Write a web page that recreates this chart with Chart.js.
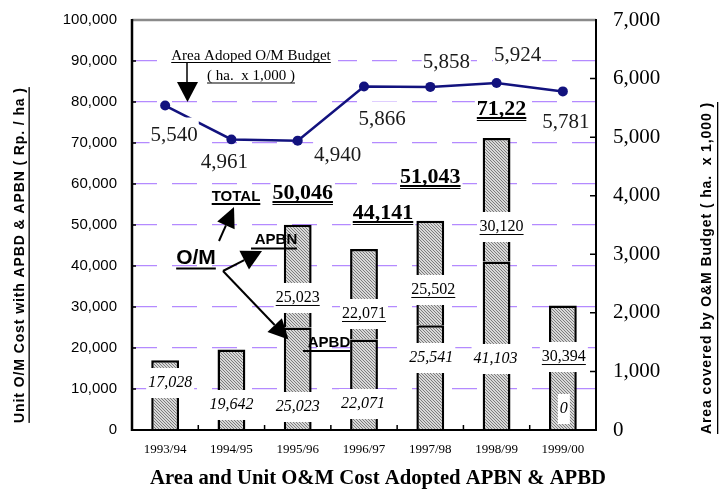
<!DOCTYPE html>
<html>
<head>
<meta charset="utf-8">
<script src="https://cdn.jsdelivr.net/npm/chart.js@4.4.1/dist/chart.umd.min.js"></script>
<style>
  html, body { margin: 0; padding: 0; background: #fff; }
  #wrap { width: 720px; height: 495px; }
</style>
</head>
<body>
<div id="wrap"><canvas id="c" width="720" height="495"></canvas></div>
<script>
// Fiscal years on the category axis
const years = ['1993/94', '1994/95', '1995/96', '1996/97', '1997/98', '1998/99', '1999/00'];

// Unit O&M cost (Rp./ha) split by funding source
const apbdCost = [17028, 19642, 25023, 22071, 25541, 41103, 0];
const apbnCost = [0, 0, 25023, 22071, 25502, 30120, 30394];

// Total cost captions printed above the stacks
const totalText = [null, null, '50,046', '44,141', '51,043', '71,22', null];

// Area covered by the O&M budget (ha x 1,000)
const areaCovered = [5540, 4961, 4940, 5866, 5858, 5924, 5781];

// Axis ranges and tick steps
const costMax = 100000, costStep = 10000;
const areaMax = 7000, areaStep = 1000;

// Where the value captions sit (cost-axis value of the caption centre, x shift in px)
const apbdCaptionAt = [11460, 6100, 5610, 6340, 17560, 17320, 5120];
const apbdCaptionDx = [5, 0, 0, -1, 1, -1, 1];
const apbnCaptionAt = [null, null, 32200, 28290, 34150, 49510, 17800];
const apbnCaptionDx = [0, 0, 0, 0, 3, 5, 1];
const totalCaptionAt = [null, null, 57800, 52930, 61710, 78290, null];
const totalCaptionDx = [0, 0, 5, 19, 0, 5, 0];
const areaCaptionOffset = [[9, 30], [-7, 23], [40, 15], [18, 33], [16, -24], [21, -28], [3, 31]];

const SANS = '"Liberation Sans", Arial, Helvetica, sans-serif';
const SERIF = '"Liberation Serif", "Times New Roman", Times, serif';

function fmt(v) { return String(v).replace(/\B(?=(\d{3})+(?!\d))/g, ','); }

function hatchPattern() {
  const c = document.createElement('canvas');
  c.width = 3; c.height = 3;
  const g = c.getContext('2d');
  g.fillStyle = '#d8d8d8';
  g.fillRect(0, 0, 3, 3);
  g.fillStyle = '#7c7c7c';
  for (let i = 0; i < 3; i++) g.fillRect(i, i, 1, 1);
  return g.createPattern(c, 'repeat');
}

function caption(ctx, text, x, y, o) {
  ctx.save();
  ctx.font = o.font;
  ctx.textAlign = 'center';
  ctx.textBaseline = 'middle';
  const w = ctx.measureText(text).width;
  if (o.box) {
    ctx.fillStyle = '#fff';
    ctx.fillRect(x - w / 2 - (o.padX || 2), y - o.box, w + 2 * (o.padX || 2), 2 * o.box);
  }
  ctx.fillStyle = o.color || '#000';
  ctx.fillText(text, x, y);
  if (o.under) ctx.fillRect(x - w / 2, y + o.under, w, o.underW || 1);
  if (o.under2) ctx.fillRect(x - w / 2, y + o.under2, w, 1);
  ctx.restore();
}

function arrow(ctx, x0, y0, x1, y1, headLen, headHalf, lw) {
  const dx = x1 - x0, dy = y1 - y0, L = Math.hypot(dx, dy);
  const ux = dx / L, uy = dy / L;
  const bx = x1 - ux * headLen, by = y1 - uy * headLen;
  ctx.save();
  ctx.strokeStyle = '#000';
  ctx.fillStyle = '#000';
  ctx.lineWidth = lw;
  ctx.beginPath();
  ctx.moveTo(x0, y0);
  ctx.lineTo(bx, by);
  ctx.stroke();
  ctx.beginPath();
  ctx.moveTo(x1, y1);
  ctx.lineTo(bx - uy * headHalf, by + ux * headHalf);
  ctx.lineTo(bx + uy * headHalf, by - ux * headHalf);
  ctx.closePath();
  ctx.fill();
  ctx.restore();
}

function sideTitle(ctx, text, cx, cy, underOff) {
  ctx.save();
  ctx.translate(cx, cy);
  ctx.rotate(-Math.PI / 2);
  ctx.font = 'bold 14px ' + SANS;
  ctx.letterSpacing = '0.9px';
  ctx.textAlign = 'center';
  ctx.textBaseline = 'middle';
  ctx.fillStyle = '#000';
  ctx.fillText(text, 0, 0);
  const w = ctx.measureText(text).width;
  ctx.fillRect(-w / 2, underOff, w, 1.3);
  ctx.restore();
}

// keep the plot box fixed: no extra room reserved for half tick labels
function noLabelOverhang(s) {
  s.paddingTop = 0;
  s.paddingBottom = 0;
}

const decorations = {
  id: 'decorations',
  afterDatasetsDraw(chart) {
    const ctx = chart.ctx;
    const x = chart.scales.x, y = chart.scales.y;

    // value captions on the bars
    years.forEach((_, i) => {
      const cx = x.getPixelForValue(i);
      caption(ctx, fmt(apbdCost[i]), cx + apbdCaptionDx[i], y.getPixelForValue(apbdCaptionAt[i]),
        { font: 'italic 16px ' + SERIF, box: 15, padX: 2 });
      if (apbnCaptionAt[i] !== null) {
        caption(ctx, fmt(apbnCost[i]), cx + apbnCaptionDx[i], y.getPixelForValue(apbnCaptionAt[i]),
          { font: '16px ' + SERIF, box: 15, padX: 2, under: 7 });
      }
      if (totalText[i]) {
        caption(ctx, totalText[i], cx + totalCaptionDx[i], y.getPixelForValue(totalCaptionAt[i]),
          { font: 'bold 22px ' + SERIF, box: 16, padX: 2, under: 8, underW: 2, under2: 11 });
      }
    });

    // area captions next to the line points
    const lineMeta = chart.getDatasetMeta(0);
    lineMeta.data.forEach((pt, i) => {
      const [dx, dy] = areaCaptionOffset[i];
      caption(ctx, fmt(areaCovered[i]), pt.x + dx, pt.y + dy,
        { font: '21px ' + SERIF, box: 18, padX: 1, color: '#1a1a1a' });
    });

    // line caption with its pointer
    ctx.save();
    ctx.fillStyle = '#fff';
    ctx.fillRect(166, 45, 172, 42);
    ctx.restore();
    caption(ctx, 'Area Adoped O/M Budget', 251, 56, { font: '15px ' + SERIF, under: 6 });
    caption(ctx, '( ha.  x 1,000 )', 251, 76, { font: '15px ' + SERIF, under: 6.5 });
    ctx.save();
    ctx.strokeStyle = '#000';
    ctx.lineWidth = 1.5;
    ctx.beginPath(); ctx.moveTo(187, 63); ctx.lineTo(187, 83); ctx.stroke();
    ctx.fillStyle = '#000';
    ctx.beginPath(); ctx.moveTo(177, 82); ctx.lineTo(198, 82); ctx.lineTo(187.5, 102); ctx.closePath(); ctx.fill();
    ctx.restore();

    // O/M breakdown callouts
    caption(ctx, 'TOTAL', 236, 197, { font: 'bold 15px ' + SANS, under: 6, underW: 2 });
    caption(ctx, 'O/M', 196, 258.5, { font: 'bold 21px ' + SANS, under: 9, underW: 2 });
    caption(ctx, 'APBN', 276, 240, { font: 'bold 15px ' + SANS });
    caption(ctx, 'APBD', 329, 342.5, { font: 'bold 15px ' + SANS });
    ctx.save();
    ctx.fillStyle = '#000';
    ctx.fillRect(251, 247.5, 46, 2);
    ctx.fillRect(303, 350, 47, 2);
    ctx.restore();
    arrow(ctx, 219, 241, 234, 207, 20, 9.5, 2);
    arrow(ctx, 223, 271, 262, 251, 20, 10.5, 2);
    arrow(ctx, 223, 271, 288.5, 339.5, 20, 10, 2);
  },
  afterDraw(chart) {
    const ctx = chart.ctx;
    const x = chart.scales.x, y = chart.scales.y, y1 = chart.scales.y1;
    const a = chart.chartArea;
    ctx.save();
    // frame
    ctx.strokeStyle = '#8a8a8a';
    ctx.lineWidth = 2.5;
    ctx.beginPath(); ctx.moveTo(a.left, a.top); ctx.lineTo(a.right, a.top); ctx.stroke();
    ctx.strokeStyle = '#000';
    ctx.lineWidth = 2.5;
    ctx.beginPath(); ctx.moveTo(a.left, a.top - 1); ctx.lineTo(a.left, a.bottom + 1); ctx.stroke();
    ctx.lineWidth = 2;
    ctx.beginPath(); ctx.moveTo(a.left, a.bottom); ctx.lineTo(a.right, a.bottom); ctx.stroke();
    ctx.beginPath(); ctx.moveTo(a.right, a.top - 1); ctx.lineTo(a.right, a.bottom + 1); ctx.stroke();
    // inward tick marks
    ctx.lineWidth = 1.5;
    ctx.beginPath();
    for (let v = costStep; v < costMax; v += costStep) {
      const py = y.getPixelForValue(v);
      ctx.moveTo(a.left, py); ctx.lineTo(a.left + 4, py);
    }
    for (let v = areaStep; v < areaMax; v += areaStep) {
      const py = y1.getPixelForValue(v);
      ctx.moveTo(a.right, py); ctx.lineTo(a.right - 6, py);
    }
    for (let i = 1; i < years.length; i++) {
      const px = (x.getPixelForValue(i - 1) + x.getPixelForValue(i)) / 2;
      ctx.moveTo(px, a.bottom); ctx.lineTo(px, a.bottom - 5);
    }
    ctx.stroke();
    ctx.restore();

    // axis titles and chart title
    sideTitle(ctx, 'Unit O/M Cost with APBD & APBN ( Rp. / ha )', 20.5, 255, 8);
    sideTitle(ctx, 'Area covered by O&M Budget ( ha.  x 1,000 )', 707, 268, 10);
    ctx.save();
    ctx.font = 'bold 20.7px ' + SERIF;
    ctx.textAlign = 'center';
    ctx.textBaseline = 'middle';
    ctx.fillStyle = '#000';
    ctx.fillText('Area and Unit O&M Cost Adopted APBN & APBD', 378, 479);
    ctx.restore();
  }
};

const hatch = hatchPattern();

new Chart(document.getElementById('c'), {
  type: 'bar',
  data: {
    labels: years,
    datasets: [
      {
        type: 'line',
        label: 'Area',
        data: areaCovered,
        yAxisID: 'y1',
        borderColor: '#12127e',
        backgroundColor: '#12127e',
        borderWidth: 2.5,
        pointRadius: 5,
        pointHoverRadius: 5,
        pointBorderWidth: 0,
        tension: 0,
        fill: false,
        order: 0
      },
      {
        label: 'APBD',
        data: apbdCost,
        yAxisID: 'y',
        stack: 'cost',
        backgroundColor: hatch,
        borderColor: '#000',
        borderWidth: 2.5,
        categoryPercentage: 1,
        barPercentage: 0.42,
        order: 1
      },
      {
        label: 'APBN',
        data: apbnCost,
        yAxisID: 'y',
        stack: 'cost',
        backgroundColor: hatch,
        borderColor: '#000',
        borderWidth: 2.5,
        categoryPercentage: 1,
        barPercentage: 0.42,
        order: 2
      }
    ]
  },
  options: {
    responsive: false,
    animation: false,
    devicePixelRatio: 1,
    layout: { padding: { top: 20, left: 0, right: 0, bottom: 0 } },
    plugins: { legend: { display: false }, tooltip: { enabled: false }, title: { display: false } },
    scales: {
      x: {
        stacked: true,
        grid: { display: false, drawTicks: false },
        border: { display: false },
        ticks: { font: { family: SERIF, size: 13 }, color: '#000', padding: 12, maxRotation: 0, autoSkip: false },
        afterFit(s) { s.height = 65; }
      },
      y: {
        stacked: true,
        position: 'left',
        min: 0,
        max: costMax,
        ticks: { stepSize: costStep, font: { family: SANS, size: 15 }, color: '#000', padding: 15, callback: v => fmt(v) },
        grid: {
          color: c => (c.tick && (c.tick.value === 0 || c.tick.value === costMax)) ? 'rgba(0,0,0,0)' : '#b48aff',
          lineWidth: 1.3,
          drawTicks: false
        },
        border: { display: false, dash: [25, 15] },
        afterFit(s) { s.width = 132; noLabelOverhang(s); }
      },
      y1: {
        position: 'right',
        min: 0,
        max: areaMax,
        ticks: { stepSize: areaStep, font: { family: SERIF, size: 21 }, color: '#000', padding: 17, callback: v => fmt(v) },
        grid: { drawOnChartArea: false, drawTicks: false },
        border: { display: false },
        afterFit(s) { s.width = 124; noLabelOverhang(s); }
      }
    }
  },
  plugins: [decorations]
});
</script>
</body>
</html>
